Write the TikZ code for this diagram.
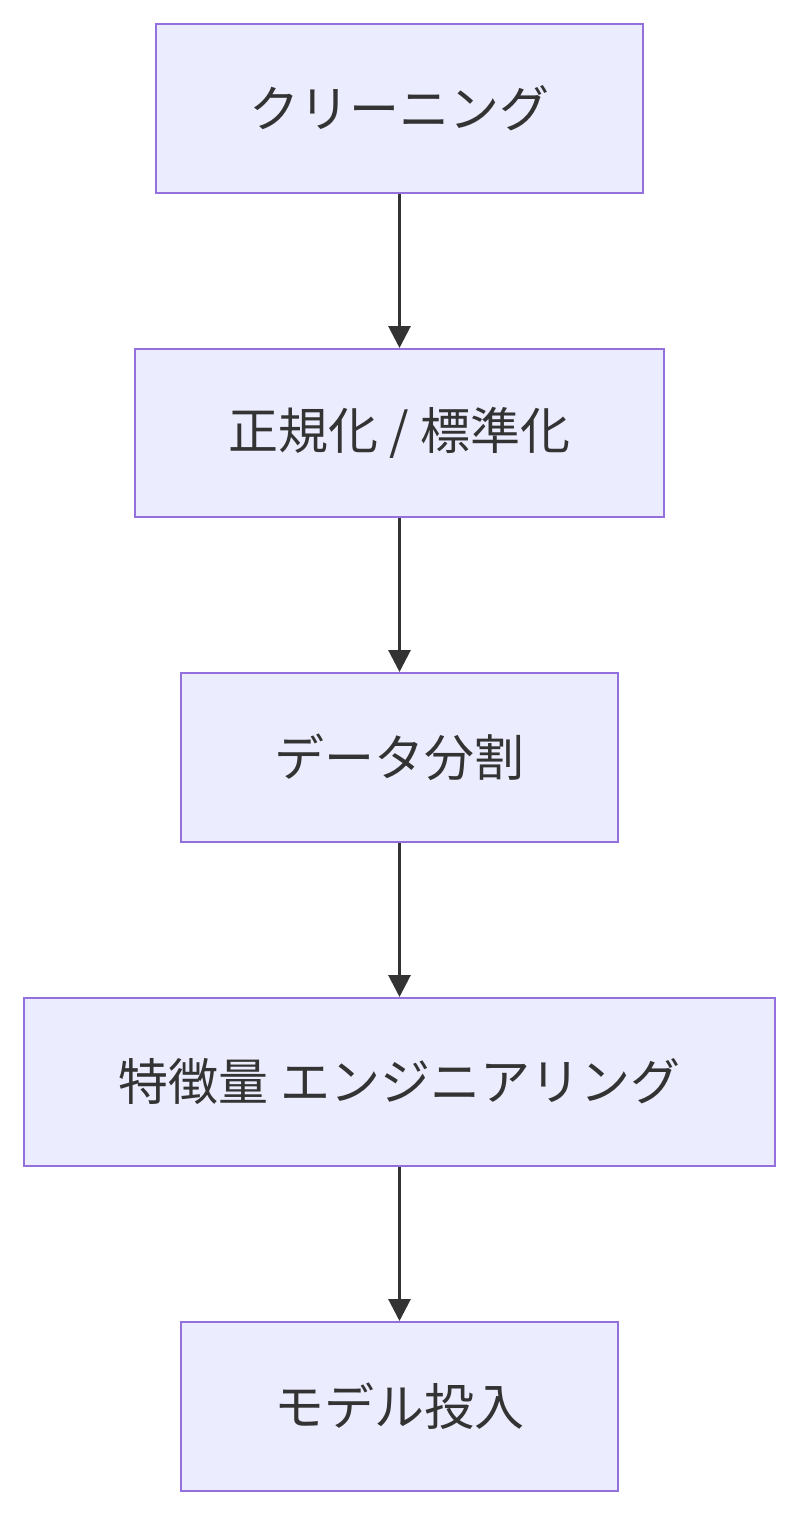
\documentclass[tikz,border=0pt]{standalone}
\usepackage{fontspec}
\setmainfont{Noto Sans CJK JP}
\usetikzlibrary{arrows.meta}
\definecolor{boxfill}{HTML}{ECECFF}
\definecolor{boxline}{HTML}{9370DB}
\definecolor{txt}{HTML}{333333}
\begin{document}
\begin{tikzpicture}[x=1pt,y=-1pt,
  stepbox/.style={draw=boxline,fill=boxfill,line width=2pt,inner sep=0pt,
    text=txt,font=\fontsize{50}{60}\selectfont},
  flow/.style={draw=txt,line width=3pt,-{Triangle[length=22pt,width=22pt]}}]
\useasboundingbox (0,0) rectangle (800,1516);
\node[stepbox,minimum width=487pt,minimum height=169pt] (a) at (399.5,108.5) {クリーニング};
\node[stepbox,minimum width=529pt,minimum height=168pt] (b) at (399.5,433) {正規化 / 標準化};
\node[stepbox,minimum width=437pt,minimum height=169pt] (c) at (399.5,757.5) {データ分割};
\node[stepbox,minimum width=751pt,minimum height=168pt] (d) at (399.5,1082) {特徴量 エンジニアリング};
\node[stepbox,minimum width=437pt,minimum height=169pt] (e) at (399.5,1406.5) {モデル投入};
\draw[flow] (a.south) -- (b.north);
\draw[flow] (b.south) -- (c.north);
\draw[flow] (c.south) -- (d.north);
\draw[flow] (d.south) -- (e.north);
\end{tikzpicture}
\end{document}
